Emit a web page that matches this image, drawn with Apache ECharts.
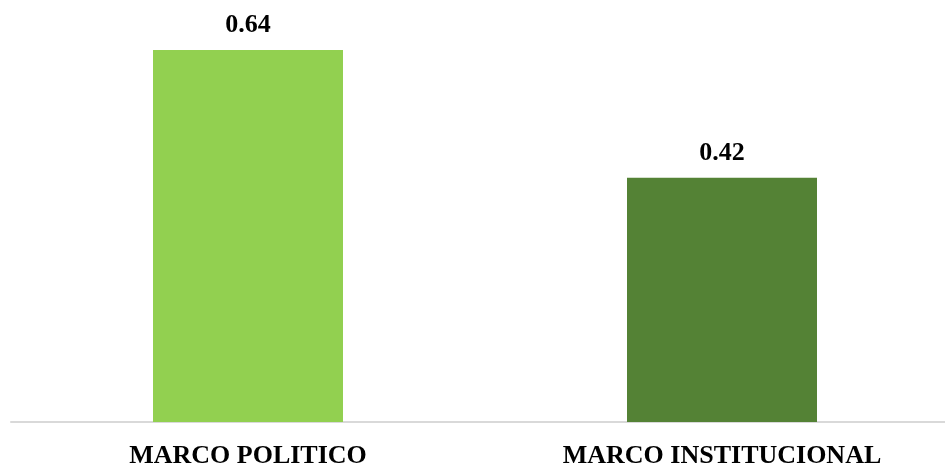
<!DOCTYPE html>
<html>
<head>
<meta charset="utf-8">
<script src="https://cdn.jsdelivr.net/npm/echarts@6/dist/echarts.min.js"></script>
<style>html,body{margin:0;padding:0;background:#fff}#c{width:945px;height:465px}</style>
</head>
<body>
<div id="c"></div>
<script>
const categories = ["MARCO POLITICO", "MARCO INSTITUCIONAL"];
const values = [0.64, 0.42];
const barColors = ["#92d050", "#548235"];

const chart = echarts.init(document.getElementById('c'), null, {renderer: 'canvas'});
chart.setOption({
  animation: false,
  backgroundColor: '#ffffff',
  grid: {left: 11, right: -14, top: 15, bottom: 43, containLabel: false, outerBoundsMode: 'none'},
  xAxis: {
    type: 'category',
    data: categories,
    axisLine: {show: true, lineStyle: {color: '#d9d9d9', width: 2}},
    axisTick: {show: false},
    axisLabel: {
      margin: 21,
      fontFamily: 'Liberation Serif',
      fontWeight: 'bold',
      fontSize: 26,
      color: '#000'
    }
  },
  yAxis: {
    type: 'value',
    min: 0,
    max: 0.7,
    show: false,
    splitLine: {show: false}
  },
  series: [{
    type: 'bar',
    barWidth: 190,
    data: values.map((v, i) => ({value: v, itemStyle: {color: barColors[i]}})),
    label: {
      show: true,
      position: 'top',
      distance: 12,
      fontFamily: 'Liberation Serif',
      fontWeight: 'bold',
      fontSize: 26,
      color: '#000',
      formatter: p => p.value.toFixed(2)
    }
  }]
});
</script>
</body>
</html>
